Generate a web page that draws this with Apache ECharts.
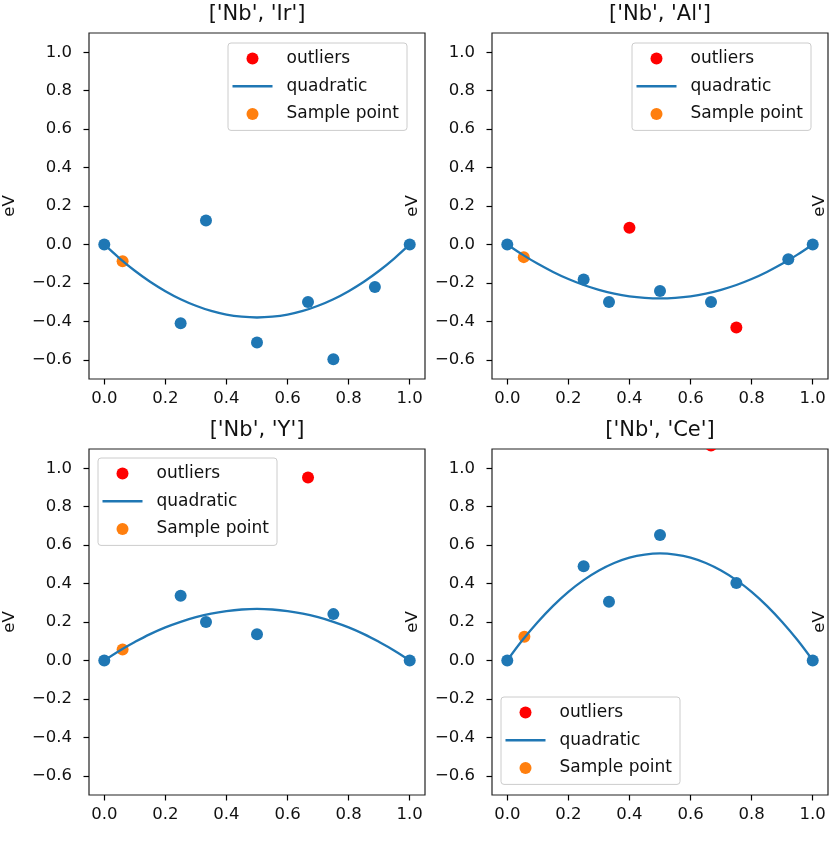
<!DOCTYPE html>
<html>
<head>
<meta charset="utf-8">
<script src="https://cdn.jsdelivr.net/npm/echarts@6/dist/echarts.min.js"></script>
<style>
html,body{margin:0;padding:0;background:#fff;}
#main{width:831px;height:842px;}
</style>
</head>
<body>
<div id="main"></div>
<script>
// ---------- data ----------
const titles = ["['Nb', 'Ir']", "['Nb', 'Al']", "['Nb', 'Y']", "['Nb', 'Ce']"];
const legendNames = ['outliers', 'quadratic', 'Sample point'];
const xTicks = [0, 0.2, 0.4, 0.6, 0.8, 1.0];
const yTicks = [-0.6, -0.4, -0.2, 0, 0.2, 0.4, 0.6, 0.8, 1.0];

// Nb-Ir
const irX = [0, 0.25, 0.333, 0.5, 0.667, 0.75, 0.886, 1];
const irY = [0, -0.41, 0.125, -0.51, -0.30, -0.597, -0.221, 0];
const irOutX = [];
const irOutY = [];
const irSampleX = [0.06];
const irSampleY = [-0.087];
// Nb-Al
const alX = [0, 0.25, 0.333, 0.5, 0.667, 0.92, 1];
const alY = [0, -0.182, -0.299, -0.242, -0.299, -0.077, 0];
const alOutX = [0.40, 0.75];
const alOutY = [0.087, -0.432];
const alSampleX = [0.054];
const alSampleY = [-0.066];
// Nb-Y
const yX = [0, 0.25, 0.333, 0.5, 0.75, 1];
const yY = [0, 0.337, 0.20, 0.136, 0.241, 0];
const yOutX = [0.667];
const yOutY = [0.952];
const ySampleX = [0.06];
const ySampleY = [0.057];
// Nb-Ce
const ceX = [0, 0.25, 0.333, 0.5, 0.75, 1];
const ceY = [0, 0.49, 0.305, 0.653, 0.403, 0];
const ceOutX = [0.667];
const ceOutY = [1.118];
const ceSampleX = [0.056];
const ceSampleY = [0.123];

// quadratic fit curves, read at these x positions
const curveX = [0, 0.05, 0.1, 0.15, 0.2, 0.25, 0.3, 0.35, 0.4, 0.45, 0.5, 0.55, 0.6, 0.65, 0.7, 0.75, 0.8, 0.85, 0.9, 0.95, 1.0];
const irCurve = [0, -0.072, -0.137, -0.194, -0.243, -0.285, -0.319, -0.346, -0.365, -0.376, -0.38, -0.376, -0.365, -0.346, -0.319, -0.285, -0.243, -0.194, -0.137, -0.072, 0];
const alCurve = [0, -0.053, -0.101, -0.143, -0.180, -0.211, -0.236, -0.256, -0.270, -0.278, -0.281, -0.278, -0.270, -0.256, -0.236, -0.211, -0.180, -0.143, -0.101, -0.053, 0];
const yCurve  = [0, 0.051, 0.096, 0.137, 0.172, 0.201, 0.225, 0.244, 0.257, 0.265, 0.268, 0.265, 0.257, 0.244, 0.225, 0.201, 0.172, 0.137, 0.096, 0.051, 0];
const ceCurve = [0, 0.106, 0.200, 0.284, 0.357, 0.418, 0.468, 0.507, 0.535, 0.551, 0.557, 0.551, 0.535, 0.507, 0.468, 0.418, 0.357, 0.284, 0.200, 0.106, 0];

// ---------- layout / style ----------
const FONT = 'DejaVu Sans';
const BLUE = '#1f77b4', ORANGE = '#ff7f0e', RED = '#ff0000';
const grids = [
  {left: 89, top: 33, width: 336, height: 346},
  {left: 492, top: 33, width: 336, height: 346},
  {left: 89, top: 449, width: 336, height: 346},
  {left: 492, top: 449, width: 336, height: 346}
];
const legendPos = [
  {left: 228, top: 43},
  {left: 632, top: 43},
  {left: 98, top: 458},
  {left: 501, top: 697}
];
const evX = [10, 412.5, 820];

const zip = (a, b) => a.map((v, i) => [v, b[i]]);
const panels = [
  {pts: zip(irX, irY), out: zip(irOutX, irOutY), smp: zip(irSampleX, irSampleY), curve: zip(curveX, irCurve)},
  {pts: zip(alX, alY), out: zip(alOutX, alOutY), smp: zip(alSampleX, alSampleY), curve: zip(curveX, alCurve)},
  {pts: zip(yX, yY), out: zip(yOutX, yOutY), smp: zip(ySampleX, ySampleY), curve: zip(curveX, yCurve)},
  {pts: zip(ceX, ceY), out: zip(ceOutX, ceOutY), smp: zip(ceSampleX, ceSampleY), curve: zip(curveX, ceCurve)}
];

const fmt = v => (v < -1e-9 ? '\u2212' : '') + Math.abs(v).toFixed(1);

const xAxes = [], yAxes = [], series = [], legends = [], graphics = [];
grids.forEach((g, i) => {
  xAxes.push({
    type: 'value', gridIndex: i, min: -0.05, max: 1.05,
    axisLine: {show: false, onZero: false},
    splitLine: {show: false},
    axisTick: {show: true, length: 5.5, inside: false, customValues: xTicks, lineStyle: {color: '#000', width: 1.2}},
    axisLabel: {customValues: xTicks, formatter: fmt, margin: 11, fontFamily: FONT, fontSize: 16.5, color: '#111'}
  });
  yAxes.push({
    type: 'value', gridIndex: i, min: -0.7, max: 1.1,
    axisLine: {show: false, onZero: false},
    splitLine: {show: false},
    axisTick: {show: true, length: 5.5, inside: false, customValues: yTicks, lineStyle: {color: '#000', width: 1.2}},
    axisLabel: {customValues: yTicks, formatter: fmt, margin: 17, fontFamily: FONT, fontSize: 16.5, color: '#111'}
  });
  const p = panels[i];
  series.push({
    type: 'scatter', name: 'points', xAxisIndex: i, yAxisIndex: i, data: p.pts,
    symbol: 'circle', symbolSize: 12, itemStyle: {color: BLUE, opacity: 1}, z: 2
  });
  series.push({
    type: 'custom', name: 'outliers', xAxisIndex: i, yAxisIndex: i, data: p.out,
    encode: {x: 0, y: 1}, clip: true, itemStyle: {color: RED, opacity: 1}, z: 2,
    renderItem: (params, api) => {
      const c = api.coord([api.value(0), api.value(1)]);
      return {type: 'circle', shape: {cx: c[0], cy: c[1], r: 6}, style: {fill: RED}};
    }
  });
  series.push({
    type: 'scatter', name: 'Sample point', xAxisIndex: i, yAxisIndex: i, data: p.smp,
    symbol: 'circle', symbolSize: 12, itemStyle: {color: ORANGE, opacity: 1}, z: 2
  });
  series.push({
    type: 'line', name: 'quadratic', xAxisIndex: i, yAxisIndex: i, data: p.curve,
    smooth: 0.4, symbol: 'none', showSymbol: false,
    lineStyle: {color: BLUE, width: 2.3}, itemStyle: {color: BLUE}, z: 3
  });
  legends.push({
    left: legendPos[i].left, top: legendPos[i].top, orient: 'vertical',
    itemWidth: 40, itemHeight: 12, itemGap: 10.7,
    padding: [7, 8, 8, 4.5],
    backgroundColor: 'rgba(255,255,255,0.8)', borderColor: '#cccccc', borderWidth: 1, borderRadius: 3,
    selectedMode: false,
    textStyle: {fontFamily: FONT, fontSize: 17, lineHeight: 17, color: '#111', padding: [0, 0, 0, 9]},
    data: [
      {name: 'outliers', icon: 'circle', itemStyle: {color: RED, borderWidth: 0, opacity: 1}},
      {name: 'quadratic', icon: 'path://M0 0H40V2.5H0Z', itemStyle: {color: BLUE, borderWidth: 0, opacity: 1}},
      {name: 'Sample point', icon: 'circle', itemStyle: {color: ORANGE, borderWidth: 0, opacity: 1}}
    ]
  });
  graphics.push({
    type: 'text', x: g.left + g.width / 2, y: g.top - 18,
    style: {text: titles[i], fontFamily: FONT, fontSize: 21, fill: '#111', align: 'center', verticalAlign: 'middle'}
  });
});
[0, 1].forEach(r => {
  const g = grids[r * 2];
  const cy = g.top + g.height / 2;
  evX.forEach(x => {
    graphics.push({
      type: 'text', x: x, y: cy, rotation: Math.PI / 2,
      style: {text: 'eV', fontFamily: FONT, fontSize: 16.5, fill: '#111', align: 'center', verticalAlign: 'middle'}
    });
  });
});

const chart = echarts.init(document.getElementById('main'), null, {renderer: 'canvas'});
chart.setOption({
  animation: false,
  backgroundColor: '#fff',
  grid: grids.map(g => Object.assign({show: true, borderColor: '#222', borderWidth: 1.2, backgroundColor: 'transparent', containLabel: false}, g)),
  xAxis: xAxes,
  yAxis: yAxes,
  legend: legends,
  series: series,
  graphic: graphics
});
</script>
</body>
</html>
